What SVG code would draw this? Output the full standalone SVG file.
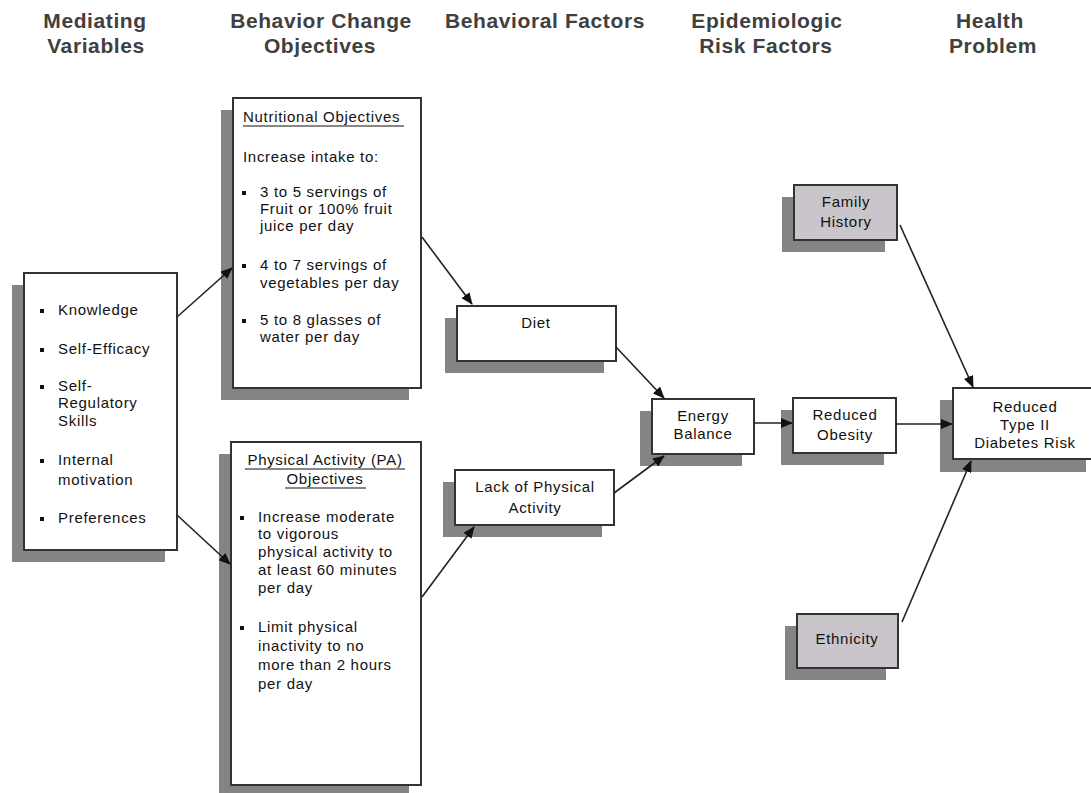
<svg xmlns="http://www.w3.org/2000/svg" width="1091" height="793" viewBox="0 0 1091 793">
<style>
.hdr{font-family:"Liberation Sans",Arial,sans-serif;font-weight:bold;font-size:21px;fill:#404040;letter-spacing:0.6px;text-anchor:middle}
.t{font-family:"Liberation Sans",Arial,sans-serif;font-size:15px;fill:#111;letter-spacing:0.7px}
.c{text-anchor:middle}
.box{fill:#fff;stroke:#333;stroke-width:2}
.gbox{fill:#c9c5cb;stroke:#333;stroke-width:2}
.sh{fill:#848484}
.bul{fill:#111}
.ul{stroke:#111;stroke-width:1.2}
.con{stroke:#222;stroke-width:1.6;fill:none;marker-end:url(#ah)}
</style>
<defs>
<marker id="ah" markerWidth="12" markerHeight="10" refX="11" refY="5" orient="auto" markerUnits="userSpaceOnUse">
<path d="M0,0 L12,5 L0,10 Z" fill="#111"/>
</marker>
</defs>
<rect width="1091" height="793" fill="#fff"/>
<g id="headers">
<text class="hdr" x="95" y="28">Mediating</text>
<text class="hdr" x="96" y="53">Variables</text>
<text class="hdr" x="321" y="28">Behavior Change</text>
<text class="hdr" x="320" y="53">Objectives</text>
<text class="hdr" x="545" y="28">Behavioral Factors</text>
<text class="hdr" x="767" y="28">Epidemiologic</text>
<text class="hdr" x="766" y="53">Risk Factors</text>
<text class="hdr" x="990" y="28">Health</text>
<text class="hdr" x="993" y="53">Problem</text>
</g>
<g id="mediating">
<rect class="sh" x="12" y="285" width="153" height="277"/>
<rect class="box" x="24" y="273" width="153" height="277"/>
<rect class="bul" x="40" y="309" width="4" height="4"/>
<text class="t" x="58" y="315">Knowledge</text>
<rect class="bul" x="40" y="348" width="4" height="4"/>
<text class="t" x="58" y="354">Self-Efficacy</text>
<rect class="bul" x="40" y="385" width="4" height="4"/>
<text class="t" x="58" y="391">Self-</text>
<text class="t" x="58" y="408">Regulatory</text>
<text class="t" x="58" y="426">Skills</text>
<rect class="bul" x="40" y="459" width="4" height="4"/>
<text class="t" x="58" y="465">Internal</text>
<text class="t" x="58" y="485">motivation</text>
<rect class="bul" x="40" y="517" width="4" height="4"/>
<text class="t" x="58" y="523">Preferences</text>
</g>
<g id="nutritional">
<rect class="sh" x="221" y="110" width="188" height="290"/>
<rect class="box" x="233" y="98" width="188" height="290"/>
<text class="t" x="243" y="122">Nutritional Objectives</text>
<line class="ul" x1="243" y1="126" x2="404" y2="126"/>
<text class="t" x="243" y="162">Increase intake to:</text>
<rect class="bul" x="242" y="191" width="4" height="4"/>
<text class="t" x="260" y="197">3 to 5 servings of</text>
<text class="t" x="260" y="214">Fruit or 100% fruit</text>
<text class="t" x="260" y="231">juice per day</text>
<rect class="bul" x="242" y="264" width="4" height="4"/>
<text class="t" x="260" y="270">4 to 7 servings of</text>
<text class="t" x="260" y="288">vegetables per day</text>
<rect class="bul" x="242" y="319" width="4" height="4"/>
<text class="t" x="260" y="325">5 to 8 glasses of</text>
<text class="t" x="260" y="342">water per day</text>
</g>
<g id="pa">
<rect class="sh" x="219" y="454" width="190" height="343"/>
<rect class="box" x="231" y="442" width="190" height="343"/>
<text class="t c" x="325" y="465">Physical Activity (PA)</text>
<line class="ul" x1="245" y1="469" x2="405" y2="469"/>
<text class="t c" x="325" y="484">Objectives</text>
<line class="ul" x1="285" y1="488" x2="366" y2="488"/>
<rect class="bul" x="240" y="516" width="4" height="4"/>
<text class="t" x="258" y="522">Increase moderate</text>
<text class="t" x="258" y="539">to vigorous</text>
<text class="t" x="258" y="557">physical activity to</text>
<text class="t" x="258" y="575">at least 60 minutes</text>
<text class="t" x="258" y="593">per day</text>
<rect class="bul" x="240" y="626" width="4" height="4"/>
<text class="t" x="258" y="632">Limit physical</text>
<text class="t" x="258" y="651">inactivity to no</text>
<text class="t" x="258" y="670">more than 2 hours</text>
<text class="t" x="258" y="689">per day</text>
</g>
<g id="diet">
<rect class="sh" x="445" y="318" width="159" height="55"/>
<rect class="box" x="457" y="306" width="159" height="55"/>
<text class="t c" x="536" y="328">Diet</text>
</g>
<g id="lack">
<rect class="sh" x="443" y="482" width="159" height="55"/>
<rect class="box" x="455" y="470" width="159" height="55"/>
<text class="t c" x="535" y="492">Lack of Physical</text>
<text class="t c" x="535" y="513">Activity</text>
</g>
<g id="energy">
<rect class="sh" x="640" y="411" width="102" height="55"/>
<rect class="box" x="652" y="399" width="102" height="55"/>
<text class="t c" x="703" y="421">Energy</text>
<text class="t c" x="703" y="439">Balance</text>
</g>
<g id="family">
<rect class="sh" x="782" y="197" width="103" height="55"/>
<rect class="gbox" x="794" y="185" width="103" height="55"/>
<text class="t c" x="846" y="207">Family</text>
<text class="t c" x="846" y="227">History</text>
</g>
<g id="obesity">
<rect class="sh" x="781" y="410" width="103" height="55"/>
<rect class="box" x="793" y="398" width="103" height="55"/>
<text class="t c" x="845" y="420">Reduced</text>
<text class="t c" x="845" y="440">Obesity</text>
</g>
<g id="diabetes">
<rect class="sh" x="940" y="400" width="146" height="72"/>
<rect class="box" x="953" y="388" width="146" height="71"/>
<text class="t c" x="1025" y="412">Reduced</text>
<text class="t c" x="1025" y="430">Type II</text>
<text class="t c" x="1025" y="448">Diabetes Risk</text>
</g>
<g id="ethnicity">
<rect class="sh" x="785" y="626" width="101" height="54"/>
<rect class="gbox" x="797" y="614" width="101" height="54"/>
<text class="t c" x="847" y="644">Ethnicity</text>
</g>
<g id="connectors">
<line class="con" x1="177" y1="317" x2="232" y2="268"/>
<line class="con" x1="177" y1="515" x2="230" y2="564"/>
<line class="con" x1="422" y1="237" x2="472" y2="304"/>
<line class="con" x1="422" y1="597" x2="474" y2="527"/>
<line class="con" x1="616" y1="347" x2="664" y2="398"/>
<line class="con" x1="614" y1="493" x2="664" y2="456"/>
<line class="con" x1="754" y1="423" x2="792" y2="423"/>
<line class="con" x1="896" y1="424" x2="952" y2="424"/>
<line class="con" x1="900" y1="225" x2="973" y2="387"/>
<line class="con" x1="902" y1="622" x2="971" y2="461"/>
</g>
</svg>
